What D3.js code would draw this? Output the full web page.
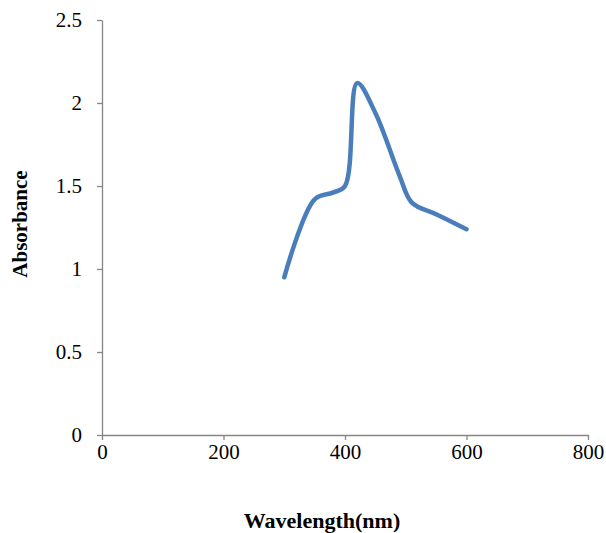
<!DOCTYPE html>
<html>
<head>
<meta charset="utf-8">
<script src="https://cdn.jsdelivr.net/npm/d3@7"></script>
<style>
  body { margin: 0; background: #fff; }
  text { font-family: "Liberation Serif", "Times New Roman", serif; }
</style>
</head>
<body>
<div id="chart"></div>
<script>
var wavelength = [300, 350, 380, 400, 420, 450, 490, 510, 550, 600];
var absorbance = [0.95, 1.42, 1.46, 1.50, 2.12, 1.94, 1.56, 1.40, 1.33, 1.24];
var xTicks = [0, 200, 400, 600, 800];
var yTicks = [0, 0.5, 1, 1.5, 2, 2.5];

var margin = {top: 20, right: 18, bottom: 98, left: 102},
    width = 606 - margin.left - margin.right,
    height = 533 - margin.top - margin.bottom;

var svg = d3.select("#chart").append("svg")
    .attr("width", 606)
    .attr("height", 533)
  .append("g")
    .attr("transform", "translate(" + margin.left + "," + margin.top + ")");

var x = d3.scaleLinear().domain([0, 800]).range([0, width]);
var y = d3.scaleLinear().domain([0, 2.5]).range([height, 0]);

var xAxis = svg.append("g")
    .attr("transform", "translate(0," + height + ")")
    .call(d3.axisBottom(x).tickValues(xTicks).tickSize(5).tickSizeOuter(0).tickPadding(4).tickFormat(d3.format("d")));

var yAxis = svg.append("g")
    .call(d3.axisLeft(y).tickValues(yTicks).tickSize(5).tickSizeOuter(0).tickPadding(15).tickFormat(function(d) { return d; }));

[xAxis, yAxis].forEach(function(a) {
  a.selectAll("path, line").attr("stroke", "#868686").attr("stroke-width", 1.3);
  a.selectAll("text").attr("fill", "#000").style("font-size", "21px")
    .style("font-family", "'Liberation Serif', serif");
});

var line = d3.line()
    .x(function(d, i) { return x(wavelength[i]); })
    .y(function(d) { return y(d); })
    .curve(d3.curveCatmullRom.alpha(0.5));

svg.append("path")
    .datum(absorbance)
    .attr("fill", "none")
    .attr("stroke", "#4a7ebb")
    .attr("stroke-width", 4.5)
    .attr("stroke-linecap", "round")
    .attr("stroke-linejoin", "round")
    .attr("d", line);

svg.append("text")
    .attr("x", 220)
    .attr("y", height + 93)
    .attr("text-anchor", "middle")
    .style("font-size", "22px")
    .style("font-weight", "bold")
    .text("Wavelength(nm)");

svg.append("text")
    .attr("transform", "translate(" + (27 - margin.left) + "," + (224 - margin.top) + ") rotate(-90)")
    .attr("text-anchor", "middle")
    .style("font-size", "21px")
    .style("font-weight", "bold")
    .text("Absorbance");
</script>
</body>
</html>
